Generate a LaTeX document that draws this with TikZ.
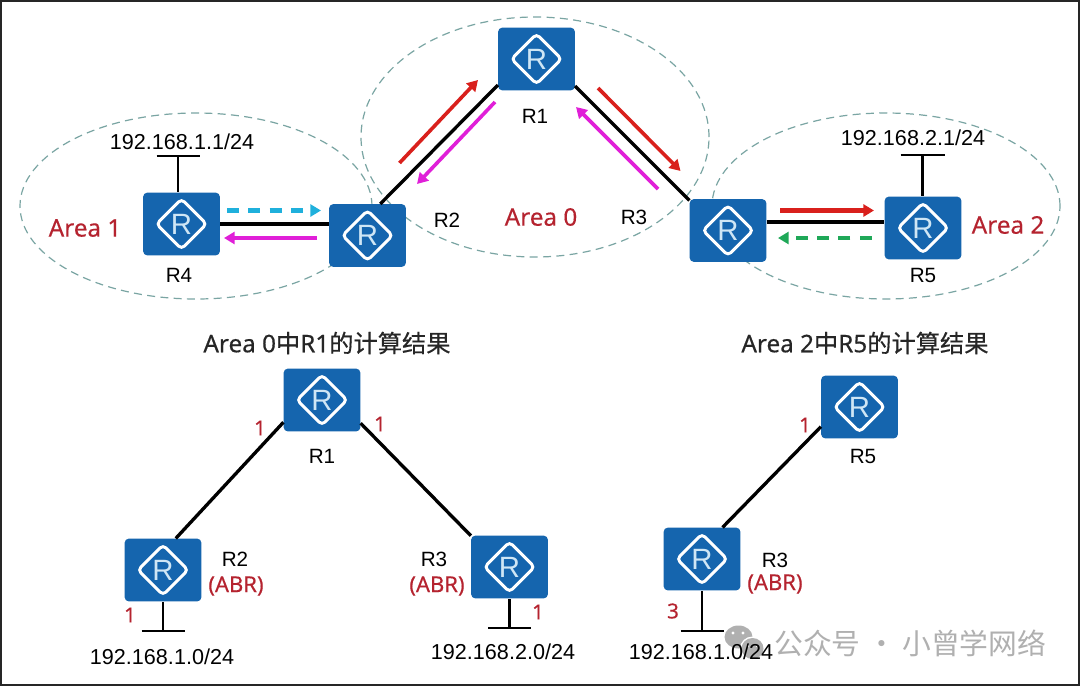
\documentclass[tikz,border=0pt]{standalone}
\usepackage{fontspec}
\setmainfont{Liberation Sans}
\newfontfamily\redfont[FakeBold=0.3]{Noto Sans}
\newfontfamily\cjk[FakeBold=0.5]{Noto Sans CJK SC}
\newfontfamily\cjkw{Noto Sans CJK SC}
\newfontfamily\titlefont[FakeBold=0.5]{Noto Sans}
\usetikzlibrary{shapes.geometric,arrows.meta,calc}
\definecolor{routerblue}{HTML}{1565AE}
\definecolor{rlight}{HTML}{CFE6F5}
\definecolor{areared}{HTML}{B5232F}
\definecolor{areadash}{HTML}{7AA5A3}
\definecolor{flowred}{HTML}{D9201C}
\definecolor{flowmag}{HTML}{E01FD8}
\definecolor{flowcyan}{HTML}{1FB0DC}
\definecolor{flowgreen}{HTML}{1FA858}
\definecolor{wmgray}{HTML}{B0B0B0}
\tikzset{
  router/.style={rectangle,rounded corners=3pt,fill=routerblue,draw=none,
    minimum width=57.5pt,minimum height=47pt,inner sep=0pt,
    text=rlight,font=\fontsize{22}{22}\selectfont,
    path picture={\draw[white,line width=2.2pt,line join=miter]
      ($(path picture bounding box.center)+(25,0)$) -- ++(-25,25) -- ++(-25,-25) -- ++(25,-25) -- cycle;}},
  areaoval/.style={ellipse,draw=areadash,line width=0.9pt,dash pattern=on 6pt off 4pt,inner sep=0pt},
  link/.style={draw=black,line width=2.5pt},
  stub/.style={draw=black,line width=1.7pt},
  flow/.style={line width=2.7pt,-{Triangle[length=8pt,width=9pt]}},
  flowdash/.style={flow,dash pattern=on 9pt off 7pt},
  lbl/.style={inner sep=0pt,font=\fontsize{15.5}{16}\selectfont,text=black},
  ip/.style={inner sep=0pt,font=\fontsize{16.2}{17}\selectfont,text=black},
  red/.style={inner sep=0pt,font=\redfont\fontsize{18.2}{19}\selectfont,text=areared},
  cost/.style={inner sep=0pt,font=\redfont\fontsize{15.5}{16}\selectfont,text=areared},
  abr/.style={inner sep=0pt,font=\redfont\fontsize{16.5}{17}\selectfont,text=areared},
  heading/.style={inner sep=0pt,font=\titlefont\fontsize{18.2}{19}\selectfont,text=black!85},
}
\begin{document}
\begin{tikzpicture}[x=0.75pt,y=-0.75pt]
\useasboundingbox (0,0) rectangle (1080,686);
\fill[white] (0,0) rectangle (1080,686);
\draw[black!85,line width=1.4pt] (0.6,0.6) rectangle (1079.4,685.4);

% areas
\node[areaoval,minimum width=264pt,minimum height=139.5pt] (area1) at (196,206) {};
\node[areaoval,minimum width=261pt,minimum height=180pt] (area0) at (535,137) {};
\node[areaoval,minimum width=261pt,minimum height=139.5pt] (area2) at (886,206) {};

% routers, top
\node[router] (R1) at (536.5,59) {R};
\node[router] (R2) at (367.5,235.5) {R};
\node[router] (R3) at (728,230.5) {R};
\node[router] (R4) at (181.5,224) {R};
\node[router] (R5) at (923,228) {R};

% links, top
\draw[link] (R1.214) -- (R2.68);
\draw[link] (R1.-35) -- (R3.142);
\draw[link] (R4.east) -- (R4.east -| R2.west);
\draw[link,line width=2.9pt] (R3.12) -- (R3.12 -| R5.west);

% stubs, top
\coordinate (t4) at (178,156);
\coordinate (t5) at (922.5,155);
\draw[stub] (t4) -- (t4 |- R4.north);
\draw[stub] ($(t4)+(-21.5,0)$) -- ($(t4)+(21.5,0)$);
\draw[stub] (t5) -- (t5 |- R5.north);
\draw[stub] ($(t5)+(-22,0)$) -- ($(t5)+(22,0)$);

% flow arrows
\coordinate (a1s) at (399.5,163); \coordinate (a1e) at (478,80);
\coordinate (a2s) at (495,102);   \coordinate (a2e) at (417,184);
\coordinate (a3s) at (227,210.5); \coordinate (a3e) at (321,210.5);
\coordinate (a4s) at (317,238);   \coordinate (a4e) at (224,238);
\coordinate (a5s) at (598,88);    \coordinate (a5e) at (680.5,171);
\coordinate (a6s) at (658,189);   \coordinate (a6e) at (576,107);
\coordinate (a7s) at (780,210.5); \coordinate (a7e) at (874,210.5);
\coordinate (a8s) at (871.6,238); \coordinate (a8e) at (778,238);
\draw[flow,flowred] (a1s) -- (a1e);
\draw[flow,flowmag] (a2s) -- (a2e);
\draw[flowdash,flowcyan,line width=3.2pt] (a3s) -- (a3e);
\draw[flow,flowmag] (a4s) -- (a4e);
\draw[flow,flowred] (a5s) -- (a5e);
\draw[flow,flowmag] (a6s) -- (a6e);
\draw[flow,flowred,line width=3.2pt] (a7s) -- (a7e);
\draw[flowdash,flowgreen] (a8s) -- (a8e);

% labels, top
\node[ip] (ip4) at (182,142) {192.168.1.1/24};
\node[ip] (ip5) at (913,138) {192.168.2.1/24};
\node[lbl] (l1) at (535,116) {R1};
\node[lbl] (l2) at (447,220) {R2};
\node[lbl] (l3) at (634,217) {R3};
\node[lbl] (l4) at (179,275) {R4};
\node[lbl] (l5) at (923,275) {R5};
\node[red] (n1) at (85,228) {Area 1};
\node[red] (n0) at (541,217) {Area 0};
\node[red] (n2) at (1008,225) {Area 2};

% headings
\node[heading] (h1) at (327,343) {Area 0{\cjk 中}R1{\cjk 的计算结果}};
\node[heading] (h2) at (865,343) {Area 2{\cjk 中}R5{\cjk 的计算结果}};

% routers, lower left
\node[router] (bR1) at (322,400) {R};
\node[router] (bR2) at (163,570) {R};
\node[router] (bR3) at (509.5,567) {R};
% routers, lower right
\node[router] (cR5) at (859.5,407) {R};
\node[router] (cR3) at (702,559) {R};

\draw[link] (bR1.210) -- (bR2.68);
\draw[link] (bR1.-31) -- (bR3.141);
\draw[link] (cR5.207.5) -- (cR3.57);

\coordinate (t1) at (163,631);
\coordinate (t2) at (509.5,628);
\coordinate (t3) at (702,631);
\draw[stub] (t1) -- (t1 |- bR2.south);
\draw[stub] ($(t1)+(-21.5,0)$) -- ($(t1)+(21.5,0)$);
\draw[stub] (t2) -- (t2 |- bR3.south);
\draw[stub] ($(t2)+(-21.5,0)$) -- ($(t2)+(21.5,0)$);
\draw[stub] (t3) -- (t3 |- cR3.south);
\draw[stub] ($(t3)+(-21.5,0)$) -- ($(t3)+(21.5,0)$);

% watermark
\fill[wmgray] (738.5,637) ellipse (14 and 11.5);
\fill[white] (752.5,648.5) ellipse (12.5 and 12);
\fill[wmgray] (752.5,648.5) ellipse (11 and 10.5);
\fill[white] (733,633) circle (1.6);
\fill[white] (743,633) circle (1.6);
\fill[white] (748,646) circle (1.4);
\fill[white] (757,646) circle (1.4);
\node[inner sep=0pt,font=\cjkw\fontsize{21.6}{22}\selectfont,text=wmgray,anchor=west] (wm) at (774,643) {公众号 · 小曾学网络};

% labels, lower
\node[lbl] (m1) at (322,456) {R1};
\node[lbl] (m2) at (235,559) {R2};
\node[abr] (m2a) at (236,586) {(ABR)};
\node[lbl] (m3) at (434,559) {R3};
\node[abr] (m3a) at (437,586) {(ABR)};
\node[lbl] (m5) at (863,456) {R5};
\node[lbl] (m6) at (775,560) {R3};
\node[abr] (m6a) at (775,584) {(ABR)};
\node[cost] (c1) at (260,428) {1};
\node[cost] (c2) at (380,424) {1};
\node[cost] (c3) at (130,615) {1};
\node[cost] (c4) at (538,612) {1};
\node[cost] (c5) at (805,425) {1};
\node[cost] (c6) at (673,611) {3};
\node[ip] (p1) at (162,657) {192.168.1.0/24};
\node[ip] (p2) at (503,652) {192.168.2.0/24};
\node[ip] (p3) at (701,652) {192.168.1.0/24};
\end{tikzpicture}
\end{document}
